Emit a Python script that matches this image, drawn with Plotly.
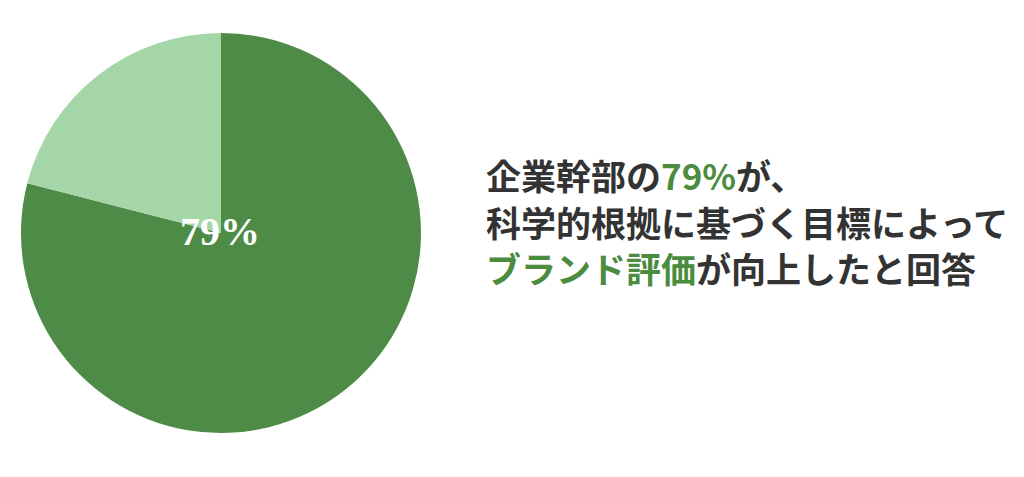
import plotly.graph_objects as go

categories = ["向上した", "その他"]
values = [79, 21]
colors = ["#4e8b46", "#a5d6a7"]
center_label = "79%"
text_lines = [
    "企業幹部の<span style='color:#4b8c3f'>79%</span>が、",
    "科学的根拠に基づく目標によって",
    "<span style='color:#4b8c3f'>ブランド評価</span>が向上したと回答",
]

W, H = 1024, 477
off = 8  # page body margin
cx, cy, r = 221 - off, 233 - off, 200

fig = go.Figure(go.Pie(
    labels=categories,
    values=values,
    sort=False,
    direction="clockwise",
    rotation=0,
    marker=dict(colors=colors, line=dict(width=0)),
    textinfo="none",
    hoverinfo="label+percent",
    showlegend=False,
    domain=dict(x=[(cx - r) / W, (cx + r) / W], y=[1 - (cy + r) / H, 1 - (cy - r) / H]),
))

fig.add_annotation(
    x=(220 - off) / W, y=1 - (231 - off) / H, xref="paper", yref="paper",
    text="<b>" + center_label + "</b>", showarrow=False,
    font=dict(family="Liberation Serif", size=40, color="white"),
    xanchor="center", yanchor="middle",
)

line_y = [174, 221, 267]
for t, yy in zip(text_lines, line_y):
    fig.add_annotation(
        x=(484 - off) / W, y=1 - (yy - off) / H, xref="paper", yref="paper",
        text="<b>" + t + "</b>", showarrow=False,
        font=dict(family="Noto Sans CJK JP", size=35, color="#333333"),
        xanchor="left", yanchor="middle", align="left",
    )

fig.update_layout(
    width=W, height=H,
    margin=dict(l=0, r=0, t=0, b=0),
    paper_bgcolor="white", plot_bgcolor="white",
)

fig.write_html("out.html")
